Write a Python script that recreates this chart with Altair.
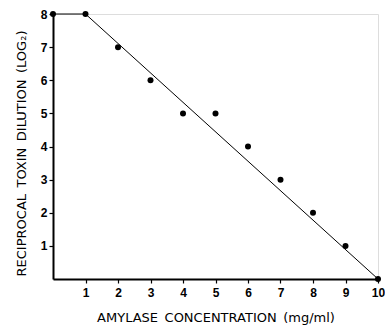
import altair as alt
import pandas as pd

# Measured toxin titres against amylase concentration
amylase = [0, 1, 2, 3, 4, 5, 6, 7, 8, 9, 10]
dilution = [8, 8, 7, 6, 5, 5, 4, 3, 2, 1, 0]

# Fitted line: plateau then linear decline
fit_x = [0, 1, 10]
fit_y = [8, 8, 0]

x_ticks = list(range(1, 11))
y_ticks = list(range(1, 9))

SP = "\u2002"  # wide word gap
x_title = SP.join(["AMYLASE", "CONCENTRATION", "(mg/ml)"])
y_title = SP.join(["RECIPROCAL", "TOXIN", "DILUTION", "(LOG₂)"])

pts = pd.DataFrame({"x": amylase, "y": dilution})
fit = pd.DataFrame({"x": fit_x, "y": fit_y})

LABEL_FONT = "Liberation Sans"
TITLE_FONT = "DejaVu Sans"

xscale = alt.Scale(domain=[0, 10], nice=False, zero=True)
yscale = alt.Scale(domain=[0, 8], nice=False, zero=True)

common = dict(
    grid=False, tickColor="black", tickWidth=1.2,
    domainColor="black", domainWidth=2,
    labelFont=LABEL_FONT, labelFontSize=12, labelFontWeight="bold", labelColor="black",
    labelOverlap=False, labelFlush=False, labelBound=False,
    titleFont=TITLE_FONT, titleFontWeight="normal", titleColor="black",
)

xaxis = alt.Axis(
    values=x_ticks, title=x_title,
    tickSize=4, labelPadding=4, titleFontSize=13, titlePadding=13,
    **common,
)
yaxis = alt.Axis(
    values=y_ticks, title=y_title,
    tickSize=4, labelPadding=2, titleFontSize=13, titlePadding=12,
    titleY=139,
    **common,
)

enc = dict(
    x=alt.X("x:Q", scale=xscale, axis=xaxis),
    y=alt.Y("y:Q", scale=yscale, axis=yaxis),
)

line = alt.Chart(fit).mark_line(color="black", strokeWidth=1).encode(**enc)
points = alt.Chart(pts).mark_circle(color="black", opacity=1, size=36).encode(**enc)

chart = (
    (line + points)
    .properties(
        width=325, height=265,
        autosize=alt.AutoSizeParams(type="none"),
        padding={"left": 53, "top": 14, "right": 7, "bottom": 49},
    )
    .configure_view(stroke=None)
    .configure_axis(labelOverlap=False)
    .configure(background="white")
)

chart.save("out.html", embed_options={"renderer": "svg", "actions": False})
